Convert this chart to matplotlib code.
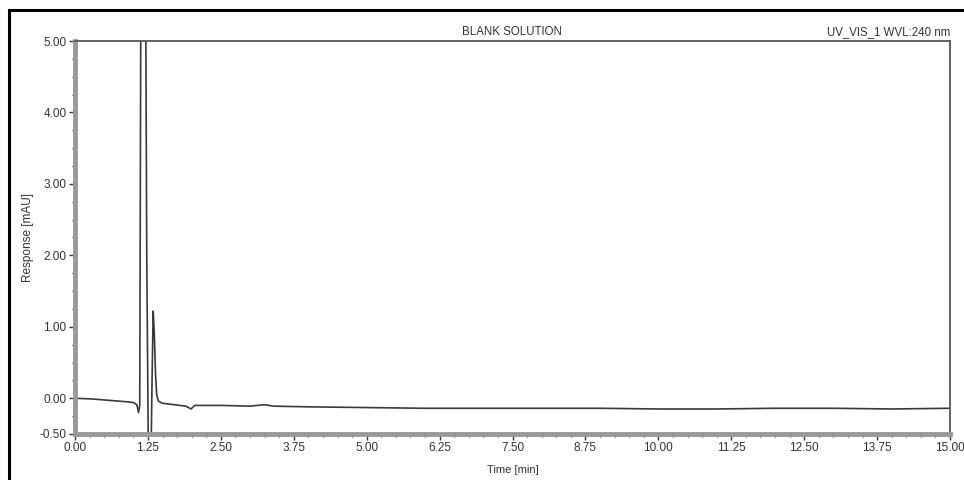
import matplotlib
matplotlib.use("Agg")
import matplotlib.pyplot as plt
from matplotlib.patches import Rectangle
from matplotlib.ticker import MultipleLocator, FormatStrFormatter

plt.rcParams['font.family'] = ['Liberation Sans', 'DejaVu Sans']

# chromatogram trace (time in min, response in mAU)
time = [0.00, 0.30, 0.60, 0.90, 1.00, 1.06, 1.09, 1.11, 1.13, 1.17, 1.21, 1.23,
        1.26, 1.30, 1.32, 1.34, 1.36, 1.38, 1.40, 1.43, 1.50, 1.70, 1.90, 1.99, 2.05,
        2.50, 3.00, 3.25, 3.40, 4.00, 5.00, 6.00, 7.00, 8.00, 9.00, 10.00,
        11.00, 12.00, 13.00, 14.00, 15.00]
response = [0.00, -0.01, -0.03, -0.05, -0.06, -0.09, -0.20, -0.10, 6.00, 6.00, 6.00, 2.00,
            -1.00, -1.00, 0.20, 1.22, 0.90, 0.35, 0.05, -0.04, -0.07, -0.09, -0.11, -0.15, -0.10,
            -0.10, -0.11, -0.09, -0.11, -0.12, -0.13, -0.14, -0.14, -0.14, -0.14, -0.15,
            -0.15, -0.14, -0.14, -0.15, -0.14]

x_ticks = [0.00, 1.25, 2.50, 3.75, 5.00, 6.25, 7.50, 8.75, 10.00, 11.25, 12.50, 13.75, 15.00]
y_ticks = [-0.50, 0.00, 1.00, 2.00, 3.00, 4.00, 5.00]

title = "BLANK SOLUTION"
channel = "UV_VIS_1 WVL:240 nm"

fig = plt.figure(figsize=(9.64, 4.80), dpi=100)
ax = fig.add_axes([75/964, 46/480, 875/964, 393/480])

ax.plot(time, response, color='#3a3a3a', lw=1.2)

ax.set_xlim(0, 15)
ax.set_ylim(-0.5, 5.0)
ax.set_xticks(x_ticks)
ax.set_yticks(y_ticks)
ax.xaxis.set_minor_locator(MultipleLocator(0.25))
ax.yaxis.set_minor_locator(MultipleLocator(0.25))
ax.xaxis.set_major_formatter(FormatStrFormatter('%.2f'))
ax.yaxis.set_major_formatter(FormatStrFormatter('%.2f'))
ax.tick_params(which='major', length=4, width=1, color='#333333', labelsize=8.5, pad=2, labelcolor='#333333')
ax.tick_params(which='minor', length=2.5, width=1, color='#333333')

for side in ['left', 'bottom']:
    ax.spines[side].set_color('#999999')
    ax.spines[side].set_linewidth(3.5)
for side in ['top', 'right']:
    ax.spines[side].set_color('#555555')
    ax.spines[side].set_linewidth(1.3)

ax.set_xlabel("Time [min]", fontsize=8, labelpad=8, color='#333333')
ax.set_ylabel("Response [mAU]", fontsize=8.5, labelpad=4, color='#333333')

fig.text(512/964, 1 - 32/480, title, fontsize=8.3, ha='center', va='center', color='#333333')
fig.text(950/964, 1 - 32/480, channel, fontsize=8.3, ha='right', va='center', color='#333333')

# outer frame of the report page
fig.add_artist(Rectangle((9/964, -0.2), 2.0, 1.2 - 10/480, transform=fig.transFigure,
                         fill=False, lw=2.2, edgecolor='black'))

fig.savefig("out.png", dpi=100)
